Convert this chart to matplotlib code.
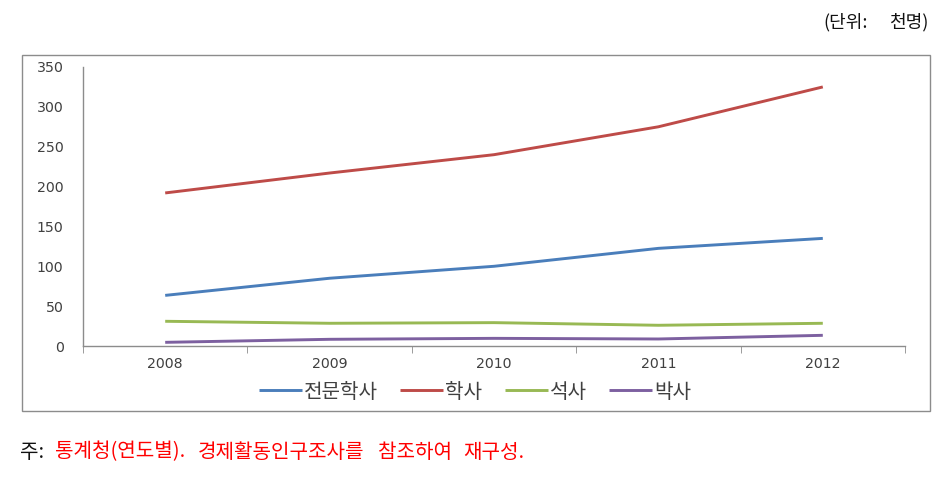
"""Line chart: 학위별 인원 추이 (2008-2012)."""

import matplotlib
matplotlib.use("Agg")
import matplotlib.pyplot as plt
from matplotlib.patches import Rectangle

plt.rcParams["font.family"] = ["Noto Sans CJK KR", "DejaVu Sans"]

years = ["2008", "2009", "2010", "2011", "2012"]
series_names = ["전문학사", "학사", "석사", "박사"]
associate = [63.5, 85, 100, 122.5, 135]
bachelor = [192, 217, 240, 275, 325]
master = [31, 28.5, 29.3, 26, 28.5]
doctor = [4.6, 8.4, 9.6, 8.8, 13.4]
y_ticks = [0, 50, 100, 150, 200, 250, 300, 350]

# footnote split into words so the wide spacing of the original can be kept
note_words = ["통계청(연도별).", "경제활동인구조사를", "참조하여", "재구성."]
note_x = [55, 198, 378, 463]

colors = ["#4A7EBB", "#BE4B48", "#98B954", "#7D60A0"]

fig = plt.figure(figsize=(9.53, 4.83), dpi=100)

# outer chart frame
fig.patches.append(Rectangle((22 / 953, 1 - 411 / 483), 908 / 953, 356 / 483,
                             transform=fig.transFigure, fill=False,
                             edgecolor="#8c8c8c", linewidth=1.0))

ax = fig.add_axes([83 / 953, 1 - 346 / 483, 822 / 953, 279 / 483])

x = list(range(len(years)))
for vals, name, c in zip([associate, bachelor, master, doctor], series_names, colors):
    ax.plot(x, vals, color=c, linewidth=2.1, label=name, solid_capstyle="butt")

ax.set_xlim(-0.5, len(years) - 0.5)
ax.set_ylim(0, 350)
ax.set_yticks(y_ticks)
ax.set_xticks(x)
ax.set_xticklabels(years)
ax.set_xticks([i - 0.5 for i in range(len(years) + 1)], minor=True)

for lbl in ax.get_xticklabels() + ax.get_yticklabels():
    lbl.set_fontfamily("DejaVu Sans")

ax.tick_params(axis="y", length=0, pad=14, labelsize=10.2, labelcolor="#404040")
ax.tick_params(axis="x", which="major", length=0, pad=8, labelsize=10.2, labelcolor="#404040")
ax.tick_params(axis="x", which="minor", length=5, color="#8c8c8c", direction="out")

for side in ["top", "right"]:
    ax.spines[side].set_visible(False)
for side in ["left", "bottom"]:
    ax.spines[side].set_color("#8c8c8c")
    ax.spines[side].set_linewidth(1.0)

ax.legend(loc="center", bbox_to_anchor=(475 / 953, 1 - 392 / 483),
          bbox_transform=fig.transFigure, ncol=4, frameon=False,
          fontsize=14.5, handlelength=2.15, handletextpad=0.1,
          columnspacing=1.1, borderpad=0, labelcolor="#404040")

fig.text(823 / 953, 1 - 22 / 483, "(단위:", ha="left", va="center",
         fontsize=13, color="#111111")
fig.text(928 / 953, 1 - 22 / 483, "천명)", ha="right", va="center",
         fontsize=13, color="#111111")

fig.text(20 / 953, 1 - 452 / 483, "주:", ha="left", va="center",
         fontsize=14.5, color="#111111")
for word, wx in zip(note_words, note_x):
    fig.text(wx / 953, 1 - 452 / 483, word, ha="left", va="center",
             fontsize=14.5, color="#ff0000")

fig.savefig("out.png", dpi=100)
